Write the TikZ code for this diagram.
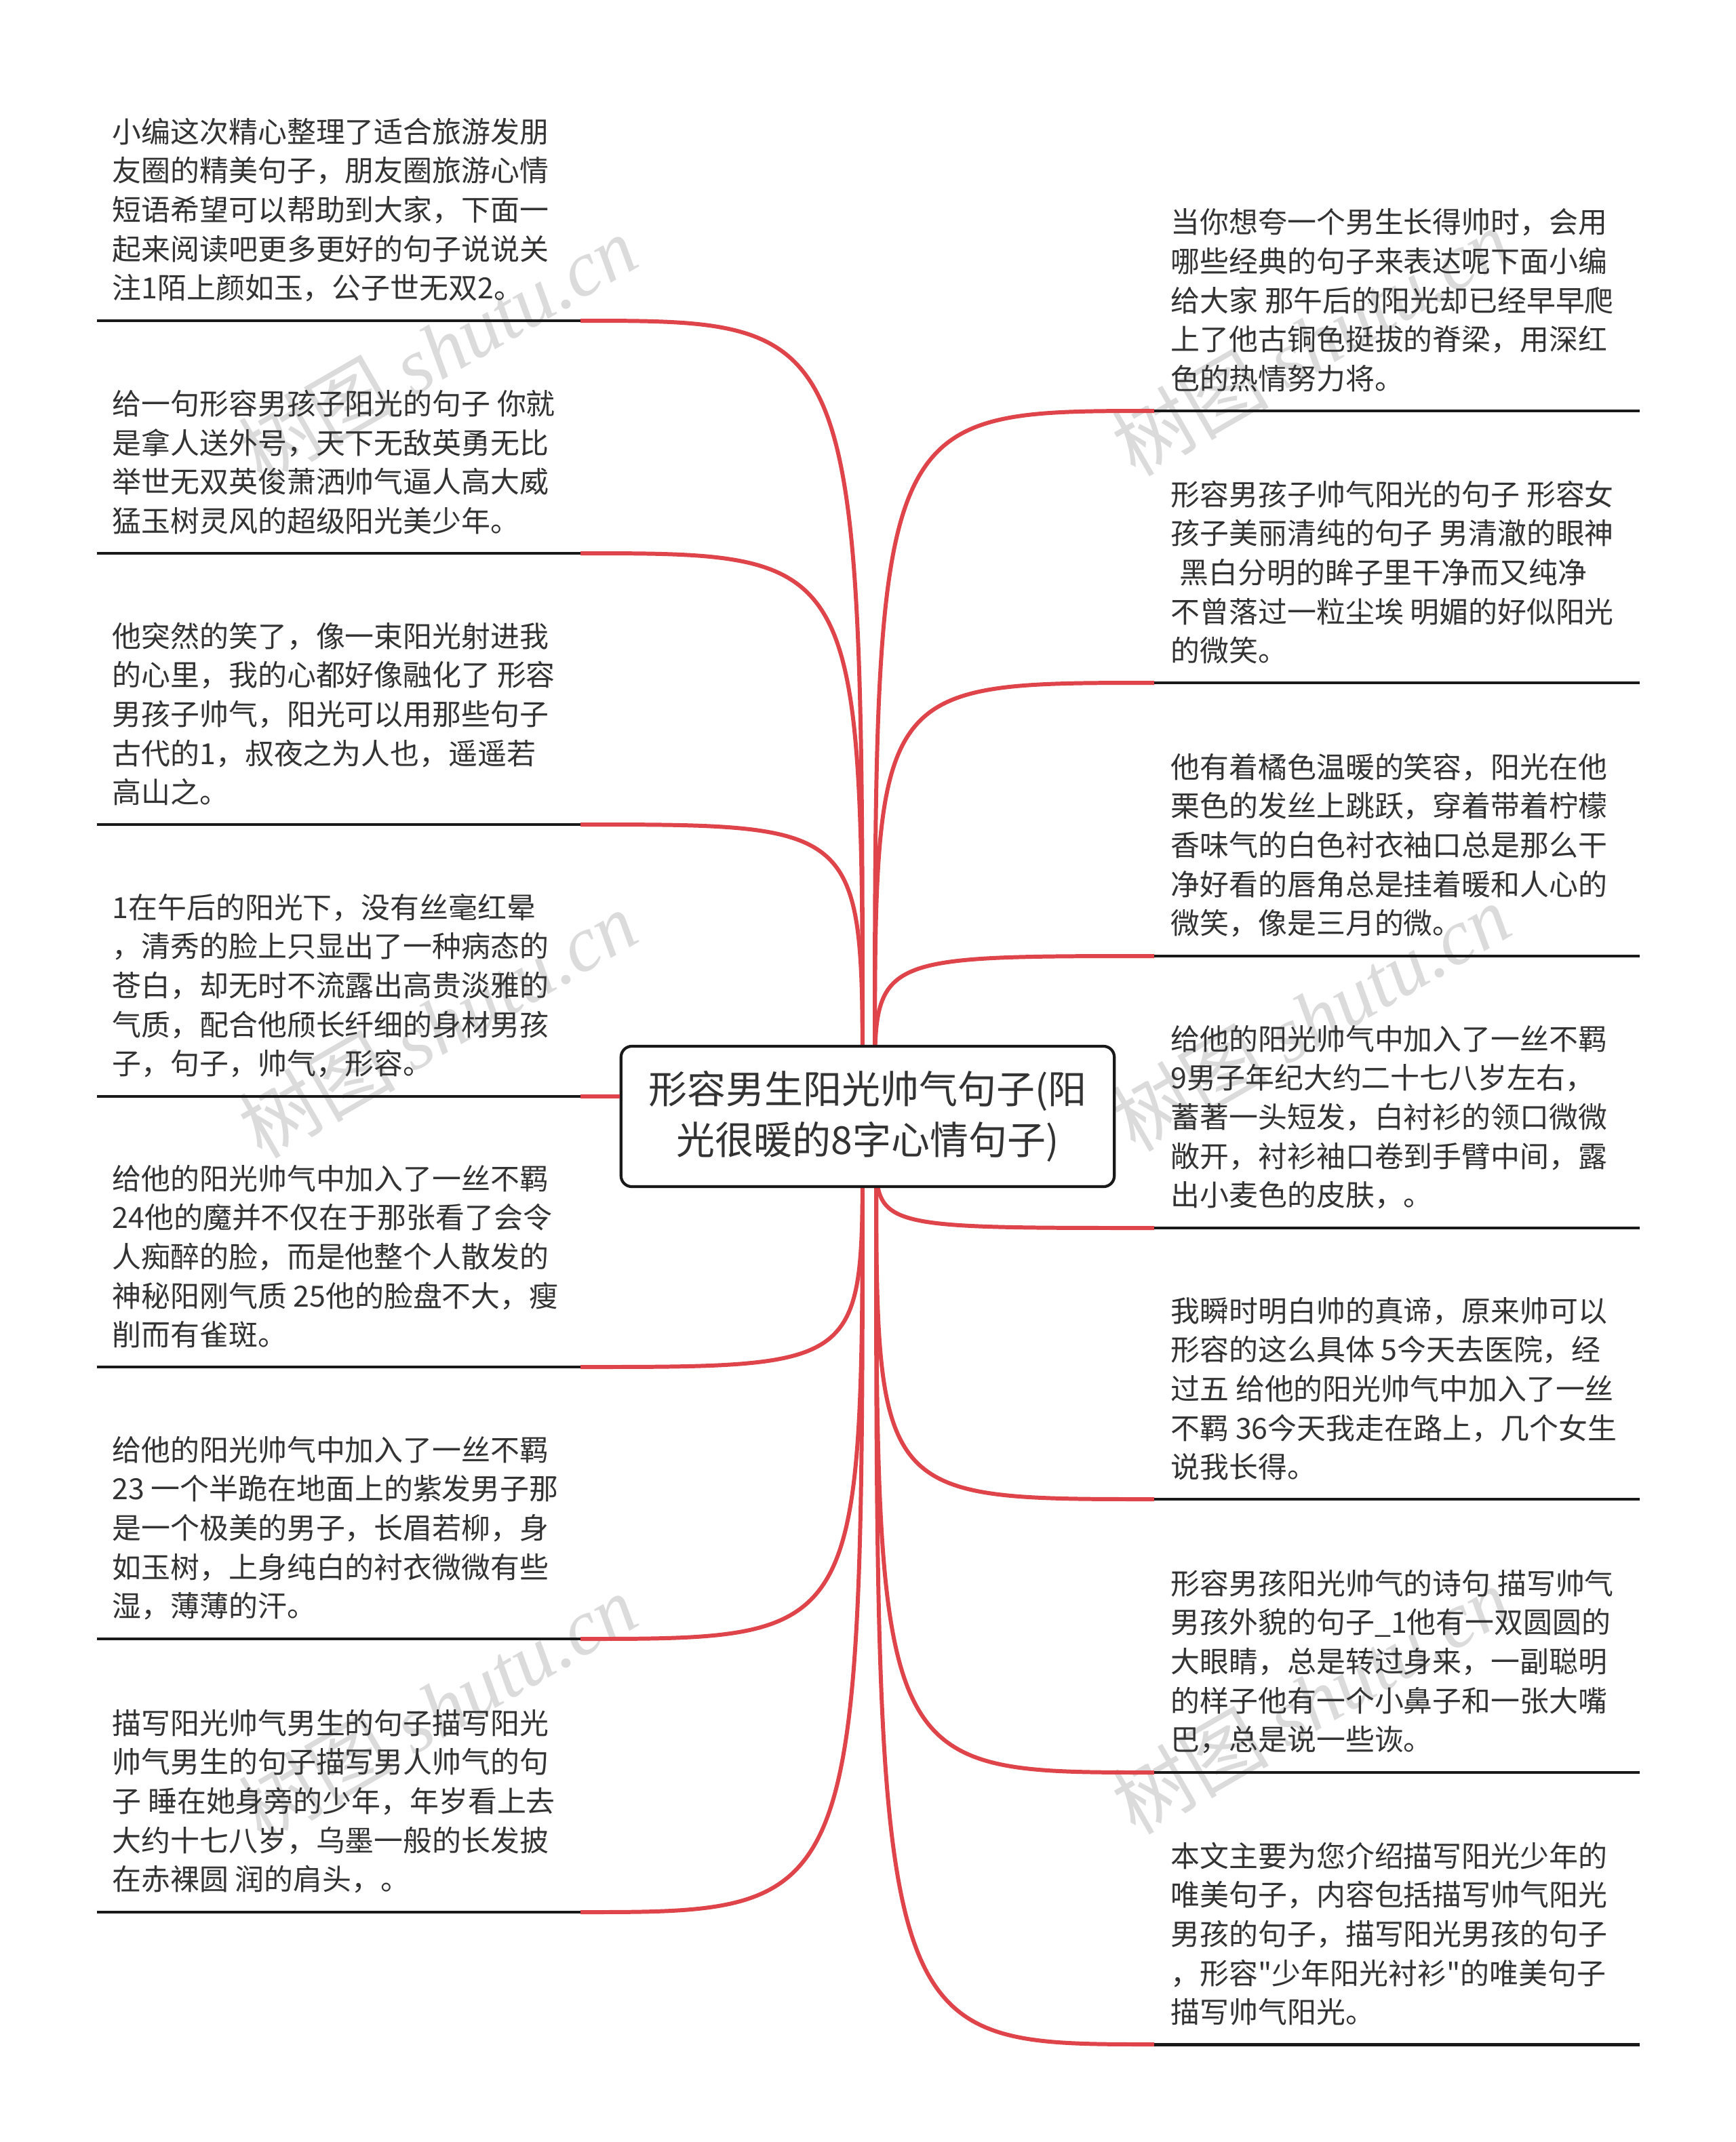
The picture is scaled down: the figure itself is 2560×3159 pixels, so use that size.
\documentclass[tikz,border=0pt]{standalone}
\usepackage{fontspec}
\setmainfont{Noto Sans CJK SC}[Ligatures=TeXOff]
\newfontfamily\wmserif{Liberation Serif}
\usetikzlibrary{calc}
\definecolor{conred}{RGB}{222,68,74}
\definecolor{txt}{RGB}{51,51,51}
\begin{document}
\begin{tikzpicture}[x=0.01cm,y=-0.01cm,
  conn/.style={draw=conred,line width=1.7pt},
  uline/.style={draw=black!90,line width=1.4pt},
  leaf/.style={anchor=south west,inner sep=0pt,align=left,text=txt,font=\fontsize{12.2pt}{16.4pt}\selectfont},
  wm/.style={text=black!14,rotate=30,inner sep=0pt,font=\fontsize{33pt}{33pt}\selectfont},
  centerbox/.style={draw=black!90,line width=1.2pt,fill=white,rounded corners=0.16cm,minimum width=7.27cm,minimum height=2.07cm,align=center,text=txt,inner sep=0pt,font=\fontsize{16.2pt}{21.3pt}\selectfont}]
\useasboundingbox (0,0) rectangle (2560,3159);
\fill[white] (0,0) rectangle (2560,3159);

% watermarks
\node[wm] (w1) at (645,514) {树图 {\wmserif\itshape shutu.cn}};
\node[wm] (w2) at (1933,504) {树图 {\wmserif\itshape shutu.cn}};
\node[wm] (w3) at (645,1510) {树图 {\wmserif\itshape shutu.cn}};
\node[wm] (w4) at (1933,1500) {树图 {\wmserif\itshape shutu.cn}};
\node[wm] (w5) at (645,2518) {树图 {\wmserif\itshape shutu.cn}};
\node[wm] (w6) at (1933,2507) {树图 {\wmserif\itshape shutu.cn}};

% underline end points
\coordinate (L1s) at (143,473);  \coordinate (L1e) at (856,473);
\coordinate (L2s) at (143,816);  \coordinate (L2e) at (856,816);
\coordinate (L3s) at (143,1216); \coordinate (L3e) at (856,1216);
\coordinate (L4s) at (143,1617); \coordinate (L4e) at (856,1617);
\coordinate (L5s) at (143,2016); \coordinate (L5e) at (856,2016);
\coordinate (L6s) at (143,2417); \coordinate (L6e) at (856,2417);
\coordinate (L7s) at (143,2820); \coordinate (L7e) at (856,2820);
\coordinate (R1s) at (1702,606);  \coordinate (R1e) at (2418,606);
\coordinate (R2s) at (1702,1007); \coordinate (R2e) at (2418,1007);
\coordinate (R3s) at (1702,1410); \coordinate (R3e) at (2418,1410);
\coordinate (R4s) at (1702,1811); \coordinate (R4e) at (2418,1811);
\coordinate (R5s) at (1702,2211); \coordinate (R5e) at (2418,2211);
\coordinate (R6s) at (1702,2614); \coordinate (R6e) at (2418,2614);
\coordinate (R7s) at (1702,3015); \coordinate (R7e) at (2418,3015);

% connector origins
\coordinate (cTL) at (1272,1600);
\coordinate (cTR) at (1290,1600);
\coordinate (cBL) at (1272,1700);
\coordinate (cBR) at (1292,1700);

% connectors
\draw[conn] (cTL) .. controls (cTL |- L1e) and (cTL |- L1e) .. (L1e);
\draw[conn] (cTL) .. controls (cTL |- L2e) and (cTL |- L2e) .. (L2e);
\draw[conn] (cTL) .. controls (cTL |- L3e) and (cTL |- L3e) .. (L3e);
\draw[conn] (cBL) .. controls (cBL |- L5e) and (cBL |- L5e) .. (L5e);
\draw[conn] (cBL) .. controls (cBL |- L6e) and (cBL |- L6e) .. (L6e);
\draw[conn] (cBL) .. controls (cBL |- L7e) and (cBL |- L7e) .. (L7e);
\draw[conn] (cTR) .. controls (cTR |- R1s) and (cTR |- R1s) .. (R1s);
\draw[conn] (cTR) .. controls (cTR |- R2s) and (cTR |- R2s) .. (R2s);
\draw[conn] (cTR) .. controls (cTR |- R3s) and (cTR |- R3s) .. (R3s);
\draw[conn] (cBR) .. controls (cBR |- R4s) and (cBR |- R4s) .. (R4s);
\draw[conn] (cBR) .. controls (cBR |- R5s) and (cBR |- R5s) .. (R5s);
\draw[conn] (cBR) .. controls (cBR |- R6s) and (cBR |- R6s) .. (R6s);
\draw[conn] (cBR) .. controls (cBR |- R7s) and (cBR |- R7s) .. (R7s);

% center node
\node[centerbox] (c) at (1279.5,1646.5) {形容男生阳光帅气句子(阳\\光很暖的8字心情句子)};
\draw[conn] (L4e) -- (L4e -| c.west);

% underlines
\foreach \n in {L1,L2,L3,L4,L5,L6,L7,R1,R2,R3,R4,R5,R6,R7}{
  \draw[uline] (\n s) -- (\n e);
}

% left texts
\node[leaf] (t1) at (165,446) {小编这次精心整理了适合旅游发朋\\友圈的精美句子，朋友圈旅游心情\\短语希望可以帮助到大家，下面一\\起来阅读吧更多更好的句子说说关\\注1陌上颜如玉，公子世无双2。};
\node[leaf] (t2) at (165,789) {给一句形容男孩子阳光的句子 你就\\是拿人送外号，天下无敌英勇无比\\举世无双英俊萧洒帅气逼人高大威\\猛玉树灵风的超级阳光美少年。};
\node[leaf] (t3) at (165,1189) {他突然的笑了，像一束阳光射进我\\的心里，我的心都好像融化了 形容\\男孩子帅气，阳光可以用那些句子\\古代的1，叔夜之为人也，遥遥若\\高山之。};
\node[leaf] (t4) at (165,1590) {1在午后的阳光下，没有丝毫红晕\\，清秀的脸上只显出了一种病态的\\苍白，却无时不流露出高贵淡雅的\\气质，配合他颀长纤细的身材男孩\\子，句子，帅气，形容。};
\node[leaf] (t5) at (165,1989) {给他的阳光帅气中加入了一丝不羁\\24他的魔并不仅在于那张看了会令\\人痴醉的脸，而是他整个人散发的\\神秘阳刚气质 25他的脸盘不大，瘦\\削而有雀斑。};
\node[leaf] (t6) at (165,2390) {给他的阳光帅气中加入了一丝不羁\\23 一个半跪在地面上的紫发男子那\\是一个极美的男子，长眉若柳，身\\如玉树，上身纯白的衬衣微微有些\\湿，薄薄的汗。};
\node[leaf] (t7) at (165,2793) {描写阳光帅气男生的句子描写阳光\\帅气男生的句子描写男人帅气的句\\子 睡在她身旁的少年，年岁看上去\\大约十七八岁，乌墨一般的长发披\\在赤裸圆 润的肩头，。};

% right texts
\node[leaf] (r1) at (1726,579) {当你想夸一个男生长得帅时，会用\\哪些经典的句子来表达呢下面小编\\给大家 那午后的阳光却已经早早爬\\上了他古铜色挺拔的脊梁，用深红\\色的热情努力将。};
\node[leaf] (r2) at (1726,980) {形容男孩子帅气阳光的句子 形容女\\孩子美丽清纯的句子 男清澈的眼神\\\hspace*{0.3em}黑白分明的眸子里干净而又纯净\\不曾落过一粒尘埃 明媚的好似阳光\\的微笑。};
\node[leaf] (r3) at (1726,1383) {他有着橘色温暖的笑容，阳光在他\\栗色的发丝上跳跃，穿着带着柠檬\\香味气的白色衬衣袖口总是那么干\\净好看的唇角总是挂着暖和人心的\\微笑，像是三月的微。};
\node[leaf] (r4) at (1726,1784) {给他的阳光帅气中加入了一丝不羁\\9男子年纪大约二十七八岁左右，\\蓄著一头短发，白衬衫的领口微微\\敞开，衬衫袖口卷到手臂中间，露\\出小麦色的皮肤，。};
\node[leaf] (r5) at (1726,2184) {我瞬时明白帅的真谛，原来帅可以\\形容的这么具体 5今天去医院，经\\过五 给他的阳光帅气中加入了一丝\\不羁 36今天我走在路上，几个女生\\说我长得。};
\node[leaf] (r6) at (1726,2587) {形容男孩阳光帅气的诗句 描写帅气\\男孩外貌的句子\_1他有一双圆圆的\\大眼睛，总是转过身来，一副聪明\\的样子他有一个小鼻子和一张大嘴\\巴，总是说一些诙。};
\node[leaf] (r7) at (1726,2988) {本文主要为您介绍描写阳光少年的\\唯美句子，内容包括描写帅气阳光\\男孩的句子，描写阳光男孩的句子\\，形容"少年阳光衬衫"的唯美句子\\描写帅气阳光。};
\end{tikzpicture}
\end{document}
